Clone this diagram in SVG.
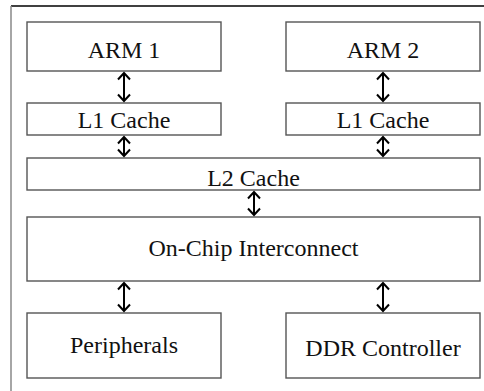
<svg xmlns="http://www.w3.org/2000/svg" width="484" height="391" viewBox="0 0 484 391">
<style>
.box{fill:#fff;stroke:#555;stroke-width:1.4}
.t{font-family:"Liberation Serif","DejaVu Serif",serif;font-size:24px;fill:#111;text-anchor:middle}
.c{stroke:#000;stroke-width:2;fill:none;marker-start:url(#ah);marker-end:url(#ah)}
</style>
<defs>
<marker id="ah" viewBox="-8 -8 16 16" refX="0" refY="0" markerWidth="16" markerHeight="16" markerUnits="userSpaceOnUse" orient="auto-start-reverse">
<path d="M-6.5,-6 L0,0 L-6.5,6" fill="none" stroke="#000" stroke-width="2"/>
</marker>
</defs>
<rect width="484" height="391" fill="#fff"/>
<g id="frame">
<line x1="11" y1="6" x2="484" y2="6" stroke="#000" stroke-width="1.5"/>
<line x1="11" y1="6" x2="11" y2="391" stroke="#888" stroke-width="1.5"/>
</g>
<g id="arm1"><rect class="box" x="27" y="22" width="194" height="49"/><text class="t" x="124" y="58">ARM 1</text></g>
<g id="arm2"><rect class="box" x="286" y="22" width="194" height="49"/><text class="t" x="383" y="58">ARM 2</text></g>
<g id="l1a"><rect class="box" x="27" y="103" width="194" height="32"/><text class="t" x="124" y="127.5">L1 Cache</text></g>
<g id="l1b"><rect class="box" x="286" y="103" width="194" height="32"/><text class="t" x="383" y="127.5">L1 Cache</text></g>
<g id="l2"><rect class="box" x="27" y="158" width="453" height="32"/><text class="t" x="253.5" y="185.5">L2 Cache</text></g>
<g id="interconnect"><rect class="box" x="27" y="217" width="453" height="64"/><text class="t" x="253.5" y="255.5">On-Chip Interconnect</text></g>
<g id="peripherals"><rect class="box" x="27" y="313" width="194" height="65"/><text class="t" x="124" y="352.5">Peripherals</text></g>
<g id="ddr"><rect class="box" x="286" y="313" width="194" height="65"/><text class="t" x="383" y="355.5">DDR Controller</text></g>
<g id="connectors">
<path class="c" d="M124,73 V101"/>
<path class="c" d="M383,73 V101"/>
<path class="c" d="M124,137 V156"/>
<path class="c" d="M383,137 V156"/>
<path class="c" d="M254,192 V215"/>
<path class="c" d="M124,283 V311"/>
<path class="c" d="M383,283 V311"/>
</g>
</svg>
